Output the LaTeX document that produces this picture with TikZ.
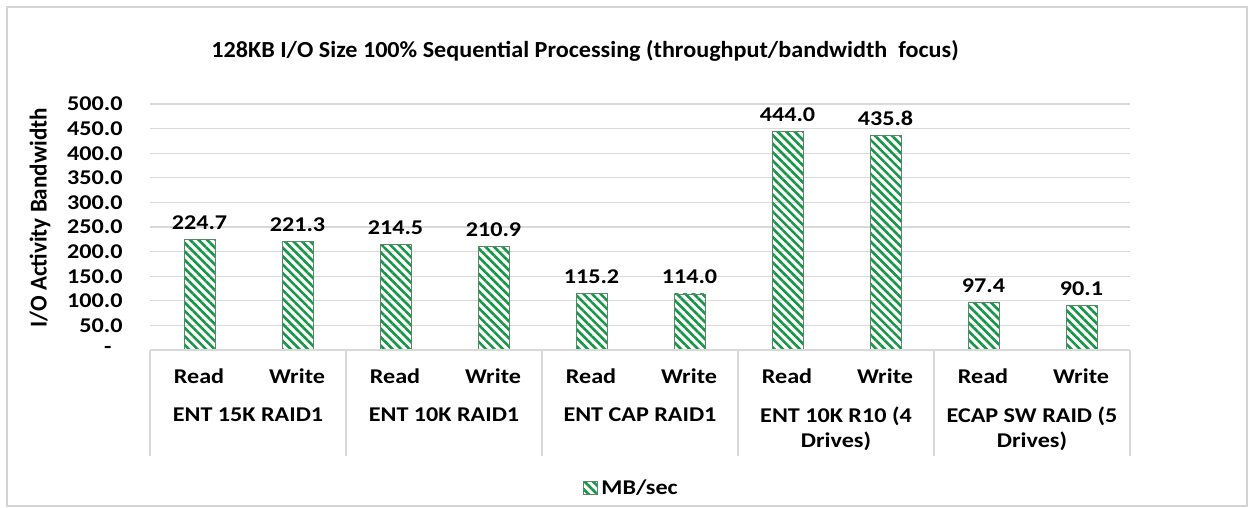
\documentclass[tikz,border=0pt]{standalone}
\usepackage{fontspec}
\setmainfont{Carlito}
\usetikzlibrary{patterns.meta}

\definecolor{barGreen}{RGB}{24,150,72}
\definecolor{gridGray}{RGB}{217,217,217}
\definecolor{frameGray}{RGB}{212,212,212}

\tikzset{
  lbl/.style={font=\bfseries\fontsize{10.5}{12.5}\selectfont, inner sep=0pt, xscale=1.15},
  titletxt/.style={font=\bfseries\fontsize{11.5}{14}\selectfont, inner sep=0pt, xscale=1.05},
  gridline/.style={gridGray, line width=0.6pt},
  bar/.style={draw=gray!60!barGreen, line width=0.4pt,
    pattern={Lines[angle=-45,distance=3pt,line width=1.3pt]}, pattern color=barGreen}
}

\begin{document}
\begin{tikzpicture}[x=0.5pt,y=-0.5pt]

\useasboundingbox (0,0) rectangle (1250,508);
\draw[frameGray, line width=0.6pt] (7,7) rectangle (1247,506);

\node[titletxt] (title) at (585,51) {128KB I/O Size 100\% Sequential Processing (throughput/bandwidth\ \ focus)};

\node[lbl, rotate=90, xscale=1.1] (ytitle) at (40,218) {I/O Activity Bandwidth};

% value part
\begin{scope}[shift={(0,350)}, y=0.246pt]

\draw[gridline] (150,50) -- (1130,50);
\draw[gridline] (150,100) -- (1130,100);
\draw[gridline] (150,150) -- (1130,150);
\draw[gridline] (150,200) -- (1130,200);
\draw[gridline] (150,250) -- (1130,250);
\draw[gridline] (150,300) -- (1130,300);
\draw[gridline] (150,350) -- (1130,350);
\draw[gridline] (150,400) -- (1130,400);
\draw[gridline] (150,450) -- (1130,450);
\draw[gridline] (150,500) -- (1130,500);

\node[lbl, anchor=east] (t0) at (112,0) {-};
\node[lbl, anchor=east] (t50) at (123,50) {50.0};
\node[lbl, anchor=east] (t100) at (123,100) {100.0};
\node[lbl, anchor=east] (t150) at (123,150) {150.0};
\node[lbl, anchor=east] (t200) at (123,200) {200.0};
\node[lbl, anchor=east] (t250) at (123,250) {250.0};
\node[lbl, anchor=east] (t300) at (123,300) {300.0};
\node[lbl, anchor=east] (t350) at (123,350) {350.0};
\node[lbl, anchor=east] (t400) at (123,400) {400.0};
\node[lbl, anchor=east] (t450) at (123,450) {450.0};
\node[lbl, anchor=east] (t500) at (123,500) {500.0};

\draw[bar] (184,0) rectangle (215,224.7);
\draw[bar] (282,0) rectangle (313,221.3);
\draw[bar] (380,0) rectangle (411,214.5);
\draw[bar] (478,0) rectangle (509,210.9);
\draw[bar] (576,0) rectangle (607,115.2);
\draw[bar] (674,0) rectangle (705,114.0);
\draw[bar] (772,0) rectangle (803,444.0);
\draw[bar] (870,0) rectangle (901,435.8);
\draw[bar] (968,0) rectangle (999,97.4);
\draw[bar] (1066,0) rectangle (1097,90.1);

\node[lbl, anchor=base, yshift=5pt] (v1) at (199.5,224.7) {224.7};
\node[lbl, anchor=base, yshift=5pt] (v2) at (297.5,221.3) {221.3};
\node[lbl, anchor=base, yshift=5pt] (v3) at (395.5,214.5) {214.5};
\node[lbl, anchor=base, yshift=5pt] (v4) at (493.5,210.9) {210.9};
\node[lbl, anchor=base, yshift=5pt] (v5) at (591.5,115.2) {115.2};
\node[lbl, anchor=base, yshift=5pt] (v6) at (689.5,114.0) {114.0};
\node[lbl, anchor=base, yshift=5pt] (v7) at (787.5,444.0) {444.0};
\node[lbl, anchor=base, yshift=5pt] (v8) at (885.5,435.8) {435.8};
\node[lbl, anchor=base, yshift=5pt] (v9) at (983.5,97.4) {97.4};
\node[lbl, anchor=base, yshift=5pt] (v10) at (1081.5,90.1) {90.1};

\end{scope}

% category axis
\draw[gridline] (150,350) -- (1130,350);
\draw[gridline] (150,350) -- (150,456);
\draw[gridline] (346,350) -- (346,456);
\draw[gridline] (542,350) -- (542,456);
\draw[gridline] (738,350) -- (738,456);
\draw[gridline] (934,350) -- (934,456);
\draw[gridline] (1130,350) -- (1130,456);

\node[lbl] (r1) at (199,376) {Read};
\node[lbl] (w1) at (297,376) {Write};
\node[lbl] (r2) at (395,376) {Read};
\node[lbl] (w2) at (493,376) {Write};
\node[lbl] (r3) at (591,376) {Read};
\node[lbl] (w3) at (689,376) {Write};
\node[lbl] (r4) at (787,376) {Read};
\node[lbl] (w4) at (885,376) {Write};
\node[lbl] (r5) at (983,376) {Read};
\node[lbl] (w5) at (1081,376) {Write};

\node[lbl, anchor=north, align=center] (g1) at (248,407) {ENT 15K RAID1};
\node[lbl, anchor=north, align=center] (g2) at (444,407) {ENT 10K RAID1};
\node[lbl, anchor=north, align=center] (g3) at (640,407) {ENT CAP RAID1};
\node[lbl, anchor=north, align=center] (g4) at (836,407) {ENT 10K R10 (4\\Drives)};
\node[lbl, anchor=north, align=center] (g5) at (1032,407) {ECAP SW RAID (5\\Drives)};

% legend
\draw[bar] (583,481) rectangle (597,494);
\node[lbl, anchor=west] (key) at (601,487.5) {MB/sec};

\end{tikzpicture}
\end{document}
